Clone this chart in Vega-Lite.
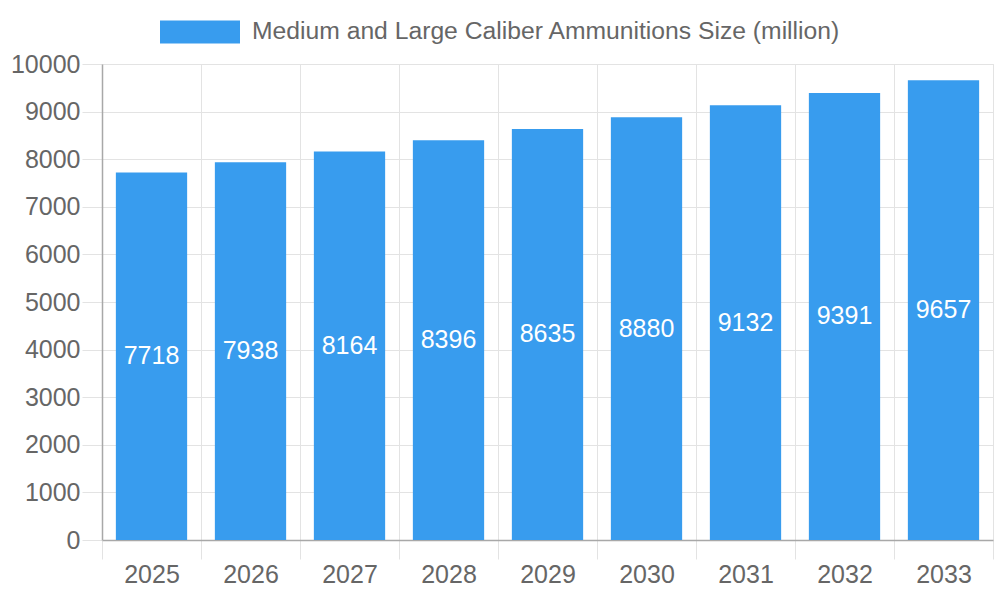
{
  "$schema": "https://vega.github.io/schema/vega-lite/v6.json",
  "width": 891,
  "height": 476,
  "autosize": {"type": "none"},
  "padding": {"left": 102, "top": 64, "right": 7, "bottom": 60},
  "background": "white",
  "data": {
    "values": [
      {"year": "2025", "value": 7718},
      {"year": "2026", "value": 7938},
      {"year": "2027", "value": 8164},
      {"year": "2028", "value": 8396},
      {"year": "2029", "value": 8635},
      {"year": "2030", "value": 8880},
      {"year": "2031", "value": 9132},
      {"year": "2032", "value": 9391},
      {"year": "2033", "value": 9657}
    ]
  },
  "encoding": {
    "x": {
      "field": "year",
      "type": "ordinal",
      "scale": {"paddingInner": 0, "paddingOuter": 0},
      "axis": {
        "title": null,
        "labelAngle": 0,
        "tickBand": "extent",
        "grid": true,
        "tickSize": 19,
        "labelPadding": 3
      }
    }
  },
  "layer": [
    {
      "mark": {"type": "bar", "color": "#389cee", "width": {"band": 0.72}},
      "encoding": {
        "y": {
          "field": "value",
          "type": "quantitative",
          "scale": {"domain": [0, 10000]},
          "axis": {
            "title": null,
            "values": [0, 1000, 2000, 3000, 4000, 5000, 6000, 7000, 8000, 9000, 10000],
            "format": "d",
            "tickSize": 20,
            "labelPadding": 2
          }
        },
        "color": {
          "datum": "Medium and Large Caliber Ammunitions Size (million)",
          "scale": {"range": ["#389cee"]},
          "legend": {
            "title": null,
            "orient": "none",
            "legendX": 58,
            "legendY": -72,
            "padding": 0,
            "symbolType": "M-1,-0.2875L1,-0.2875L1,0.2875L-1,0.2875Z",
            "symbolSize": 6400,
            "symbolStrokeWidth": 0,
            "symbolOpacity": 1,
            "labelFontSize": 24.7,
            "labelLimit": 0,
            "labelColor": "#666666",
            "labelFont": "Liberation Sans",
            "labelOffset": 12
          }
        }
      }
    },
    {
      "transform": [{"calculate": "datum.value / 2", "as": "mid"}],
      "mark": {"type": "text", "color": "white", "fontSize": 25, "font": "Liberation Sans", "baseline": "middle"},
      "encoding": {
        "y": {"field": "mid", "type": "quantitative"},
        "text": {"field": "value", "type": "quantitative", "format": "d"}
      }
    }
  ],
  "config": {
    "view": {"stroke": "#e3e3e3"},
    "axis": {
      "labelFont": "Liberation Sans",
      "labelFontSize": 25,
      "labelColor": "#666666",
      "gridColor": "#e3e3e3",
      "tickColor": "#e3e3e3",
      "domainColor": "#a8a8a8",
      "domainWidth": 1.5
    }
  }
}
